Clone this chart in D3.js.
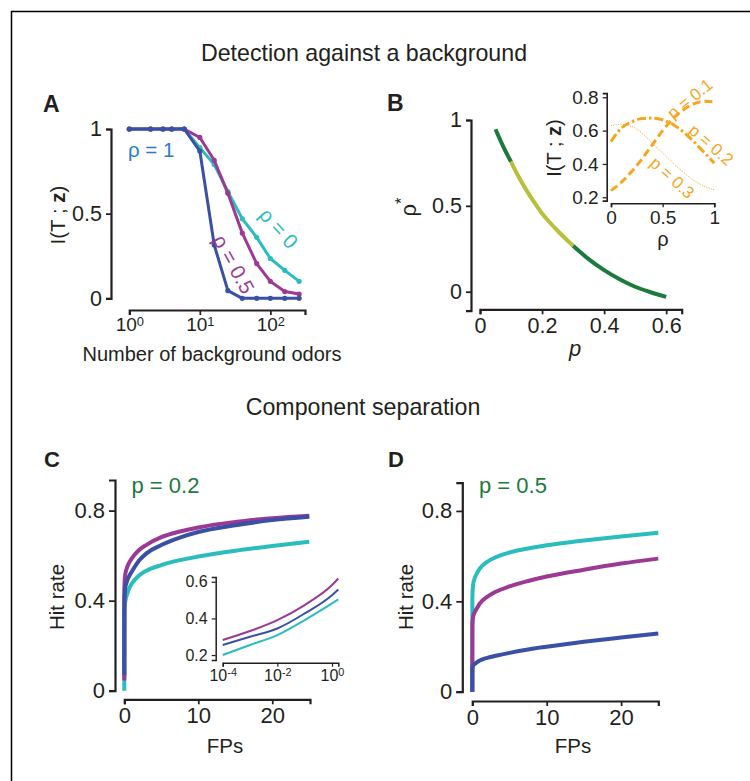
<!DOCTYPE html>
<html><head><meta charset="utf-8">
<script src="https://cdn.jsdelivr.net/npm/d3@7"></script>
<style>
body{margin:0;background:#fff}
svg text{font-family:"Liberation Sans",Arial,sans-serif;fill:#231f20}
</style></head><body><svg id="c" width="750" height="781"></svg>
<script>
// ---------- DATA ----------
// Panel A
const aOdors = [1,2,3,4,6,10,16,25,40,64,100,160,256];
const aRho0  = [1,1,1,1,1,0.89,0.79,0.63,0.47,0.36,0.235,0.165,0.10];
const aRho05 = [1,1,1,1,1,0.95,0.815,0.62,0.385,0.205,0.10,0.04,0.025];
const aRho1  = [1,1,1,1,1,0.87,0.315,0.045,0,0,0,0,0];
const aYTicks = [0,0.5,1];
const aXTicks = [1,10,100];
// Panel B
const bP   = [0.05,0.075,0.1,0.125,0.15,0.175,0.2,0.225,0.25,0.275,0.3,0.35,0.4,0.45,0.5,0.55,0.6];
const bRho = [0.946,0.845,0.757,0.668,0.59,0.52,0.456,0.403,0.355,0.31,0.268,0.19,0.126,0.073,0.029,-0.003,-0.03];
const bOptimalRange = [0.1,0.3];
const bYTicks = [0,0.5,1];
const bXTicks = [0,0.2,0.4,0.6];
// Panel B inset
const biRho = [0,0.1,0.2,0.3,0.4,0.5,0.6,0.7,0.8,0.9,1];
const biP01 = [0.24,0.29,0.355,0.43,0.515,0.6,0.672,0.725,0.76,0.776,0.773];
const biP02 = [0.534,0.615,0.652,0.672,0.675,0.664,0.637,0.592,0.535,0.47,0.405];
const biP03 = [0.63,0.637,0.625,0.585,0.525,0.465,0.405,0.35,0.302,0.267,0.245];
const biYTicks = [0.2,0.4,0.6,0.8];
const biXTicks = [0,0.5,1];
// Panel C
const cFP     = [0,0.01,0.1,0.3,0.6,1,2,3,5,7.5,10,15,20,25];
const cPurple = [0.045,0.45,0.51,0.54,0.565,0.587,0.625,0.648,0.682,0.707,0.725,0.75,0.766,0.777];
const cBlue   = [0.07,0.40,0.45,0.48,0.505,0.528,0.578,0.61,0.647,0.68,0.705,0.735,0.758,0.773];
const cTeal   = [0,0.33,0.39,0.42,0.45,0.475,0.512,0.533,0.558,0.58,0.596,0.622,0.643,0.662];
// Panel C inset
const ciFP     = [1e-4,1e-3,1e-2,1e-1,1,1.7];
const ciPurple = [0.282,0.331,0.391,0.473,0.582,0.618];
const ciBlue   = [0.255,0.30,0.345,0.427,0.527,0.558];
const ciTeal   = [0.20,0.255,0.309,0.391,0.482,0.504];
const ciYTicks = [0.2,0.4,0.6];
const ciXTicks = [1e-4,1e-2,1];
// Panel D
const dFP     = [0,0.01,0.1,0.3,0.6,1,2,3,5,7.5,10,15,20,25];
const dTeal   = [0,0.42,0.47,0.5,0.523,0.545,0.575,0.593,0.616,0.634,0.648,0.669,0.687,0.703];
const dPurple = [0,0.29,0.33,0.35,0.368,0.39,0.42,0.44,0.466,0.49,0.51,0.54,0.567,0.589];
const dBlue   = [0,0.10,0.115,0.122,0.13,0.138,0.15,0.158,0.172,0.187,0.199,0.221,0.24,0.258];
const cdYTicks = [0,0.4,0.8];
const cdXTicks = [0,10,20];

// ---------- STYLE ----------
const COL = {blue:"#3a50a5", purple:"#9b3995", teal:"#2bbdbd", lblue:"#2b7bc0",
  green:"#1b7a3c", olive:"#b9bf3b", orange:"#f7a51e", ink:"#231f20"};
const svg = d3.select("#c");

svg.append("path").attr("d","M11.5,781V11.5H750").attr("fill","none").attr("stroke","#000").attr("stroke-width",1.5);

function fmtNum(d){ return String(d); }
function styleAxis(g, fs, sw){
  g.attr("font-size",null).attr("font-family",null);
  g.select(".domain").attr("stroke",COL.ink).attr("stroke-width",sw);
  g.selectAll(".tick line").attr("stroke",COL.ink).attr("stroke-width",sw*0.8);
  g.selectAll(".tick text").attr("font-size",fs).style("font-size",fs+"px").attr("fill",COL.ink);
}
function yAxis(scale, x, ticks, fs, sw, fmt, ts){
  const g = svg.append("g").attr("transform",`translate(${x},0)`)
    .call(d3.axisLeft(scale).tickValues(ticks).tickFormat(fmt||fmtNum).tickSizeOuter(0).tickSize(ts||5).tickPadding(4));
  styleAxis(g, fs, sw); return g;
}
function xAxis(scale, y, ticks, fs, sw, fmt, ts){
  const g = svg.append("g").attr("transform",`translate(0,${y})`)
    .call(d3.axisBottom(scale).tickValues(ticks).tickFormat(fmt||fmtNum).tickSizeOuter(0).tickSize(ts||5).tickPadding(3));
  styleAxis(g, fs, sw); return g;
}
function text(x,y,str,opt){
  opt=opt||{};
  const t = svg.append("text").attr("x",x).attr("y",y).text(str)
    .style("font-size",(opt.fs||20)+"px").attr("text-anchor",opt.anchor||"start");
  if(opt.fill) t.style("fill",opt.fill);
  if(opt.weight) t.attr("font-weight",opt.weight);
  if(opt.rot!==undefined) t.attr("transform",`rotate(${opt.rot},${x},${y})`);
  if(opt.base) t.attr("dominant-baseline",opt.base);
  if(opt.italic) t.attr("font-style","italic");
  return t;
}
function itz(x,y,fs,rot){
  const t = svg.append("text").attr("x",x).attr("y",y).style("font-size",fs+"px")
    .attr("text-anchor","middle").attr("dominant-baseline","central")
    .attr("transform",`rotate(${rot},${x},${y})`);
  t.append("tspan").text("I(T ; ");
  t.append("tspan").attr("font-weight","bold").text("z");
  t.append("tspan").text(")");
}
function series(xs, ys, xS, yS, color, w, curve, dash){
  const line = d3.line().x((d,i)=>xS(xs[i])).y(d=>yS(d)).curve(curve||d3.curveLinear);
  const p = svg.append("path").datum(ys).attr("d",line).attr("fill","none")
    .attr("stroke",color).attr("stroke-width",w).attr("stroke-linejoin","round");
  if(dash) p.attr("stroke-dasharray",dash);
  return p;
}
function powTicks(g){
  g.selectAll(".tick text").text(null).each(function(d){
    const t = d3.select(this);
    t.append("tspan").text("10");
    t.append("tspan").attr("dy","-0.45em").style("font-size","0.68em").text(Math.round(Math.log10(d)));
  });
}

// ---------- TITLES ----------
text(364,61,"Detection against a background",{fs:23.2,anchor:"middle"});
text(363,415,"Component separation",{fs:23.2,anchor:"middle"});
text(43,111.5,"A",{fs:23,weight:"bold"});
text(387,110.5,"B",{fs:23,weight:"bold"});
text(44,467,"C",{fs:22,weight:"bold"});
text(388,467,"D",{fs:22,weight:"bold"});

// ---------- PANEL A ----------
{
  const x = d3.scaleLog().domain([1,310]).range([129.3,305]);
  const y = d3.scaleLinear().domain([0,1]).range([298.3,129]);
  yAxis(y,111,aYTicks,21.5,2.2);
  powTicks(xAxis(x,310,aXTicks,19,2.2));
  [[aRho0,COL.teal],[aRho05,COL.purple],[aRho1,COL.blue]].forEach(([ys,c])=>{
    series(aOdors,ys,x,y,c,3);
    svg.append("g").selectAll("circle").data(ys).join("circle")
      .attr("cx",(d,i)=>x(aOdors[i])).attr("cy",d=>y(d)).attr("r",2.6).attr("fill",c);
  });
  text(128,157,"ρ = 1",{fs:20.5,fill:COL.lblue});
  text(279,228,"ρ = 0",{fs:20.5,fill:COL.teal,anchor:"middle",base:"central",rot:48});
  text(234,264,"ρ = 0.5",{fs:20.5,fill:COL.purple,anchor:"middle",base:"central",rot:61});
  itz(57,215,20.5,-90);
  text(212,361,"Number of background odors",{fs:20,anchor:"middle"});
}

// ---------- PANEL B ----------
{
  const x = d3.scaleLinear().domain([0,0.65]).range([480,681.7]);
  const y = d3.scaleLinear().domain([-0.11,1]).range([310.6,120]);
  yAxis(y,471,bYTicks,21.5,2.2);
  xAxis(x,309.3,bXTicks,21.5,2.2);
  const line = d3.line().x(d=>x(d[0])).y(d=>y(d[1])).curve(d3.curveMonotoneX);
  const pts = bP.map((p,i)=>[p,bRho[i]]);
  const segs = [
    [pts.filter(d=>d[0]<=bOptimalRange[0]),COL.green],
    [pts.filter(d=>d[0]>=bOptimalRange[1]),COL.green],
    [pts.filter(d=>d[0]>=bOptimalRange[0]&&d[0]<=bOptimalRange[1]),COL.olive]
  ];
  segs.forEach(([d,c])=>svg.append("path").attr("d",line(d)).attr("fill","none")
    .attr("stroke",c).attr("stroke-width",4));
  const t = svg.append("text").attr("x",408).attr("y",207).style("font-size","22px")
    .attr("text-anchor","middle").attr("dominant-baseline","central")
    .attr("transform","rotate(-90,408,207)");
  t.append("tspan").text("ρ");
  t.append("tspan").attr("dy","-0.45em").style("font-size","0.75em").text("*");
  text(575,356,"p",{fs:22,anchor:"middle",italic:true});

  // inset
  const xi = d3.scaleLinear().domain([0,1]).range([611,714.3]);
  const yi = d3.scaleLinear().domain([0.18,0.825]).range([200.6,93.1]);
  yAxis(yi,606.7,biYTicks,19,1.6,d=>d.toFixed(1),4);
  xAxis(xi,203.3,biXTicks,19,1.6,d=>String(d),4);
  series(biRho,biP03,xi,yi,COL.orange,1,d3.curveMonotoneX,"1,1.4");
  series(biRho,biP02,xi,yi,COL.orange,3,d3.curveMonotoneX,"9,3,2.5,3");
  series(biRho,biP01,xi,yi,COL.orange,3,d3.curveMonotoneX,"8,4");
  text(690,99,"p = 0.1",{fs:17,fill:COL.orange,anchor:"middle",base:"central",rot:-39});
  text(711,145,"p = 0.2",{fs:17,fill:COL.orange,anchor:"middle",base:"central",rot:41});
  text(672,178,"p = 0.3",{fs:17,fill:COL.orange,anchor:"middle",base:"central",rot:42});
  itz(554,148,20,-90);
  text(663,246,"ρ",{fs:20,anchor:"middle"});
}

// ---------- PANEL C ----------
{
  const x = d3.scaleLinear().domain([0,25.1]).range([124.3,310]);
  const y = d3.scaleLinear().domain([0,0.936]).range([690.7,480]);
  yAxis(y,115,cdYTicks,22,2.2,null,6);
  xAxis(x,699.3,cdXTicks,22,2.2,null,5);
  series(cFP,cTeal,x,y,COL.teal,4,d3.curveMonotoneX);
  series(cFP,cPurple,x,y,COL.purple,4,d3.curveMonotoneX);
  series(cFP,cBlue,x,y,COL.blue,4,d3.curveMonotoneX);
  text(131.5,493,"p = 0.2",{fs:22,fill:COL.green});
  text(56,597,"Hit rate",{fs:20.5,anchor:"middle",base:"central",rot:-90});
  text(225,753,"FPs",{fs:20.5,anchor:"middle"});
  // inset
  const xi = d3.scaleLog().domain([1e-4,1.7]).range([222.7,338.3]);
  const yi = d3.scaleLinear().domain([0.173,0.626]).range([660,577]);
  yAxis(yi,215.7,ciYTicks,16,1.5,d=>d.toFixed(1),4);
  powTicks(xAxis(xi,662.7,ciXTicks,16,1.5,null,4));
  series(ciFP,ciTeal,xi,yi,COL.teal,2,d3.curveMonotoneX);
  series(ciFP,ciBlue,xi,yi,COL.blue,2,d3.curveMonotoneX);
  series(ciFP,ciPurple,xi,yi,COL.purple,2,d3.curveMonotoneX);
}

// ---------- PANEL D ----------
{
  const x = d3.scaleLinear().domain([0,25]).range([472.3,658.3]);
  const y = d3.scaleLinear().domain([0,0.925]).range([691.7,482.7]);
  yAxis(y,462.3,cdYTicks,22,2.2,null,6);
  xAxis(x,701,cdXTicks,22,2.2,null,5);
  series(dFP,dTeal,x,y,COL.teal,4,d3.curveMonotoneX);
  series(dFP,dPurple,x,y,COL.purple,4,d3.curveMonotoneX);
  series(dFP,dBlue,x,y,COL.blue,4,d3.curveMonotoneX);
  text(479,493,"p = 0.5",{fs:22,fill:COL.green});
  text(405,597,"Hit rate",{fs:20.5,anchor:"middle",base:"central",rot:-90});
  text(573,753,"FPs",{fs:20.5,anchor:"middle"});
}
</script></body></html>
